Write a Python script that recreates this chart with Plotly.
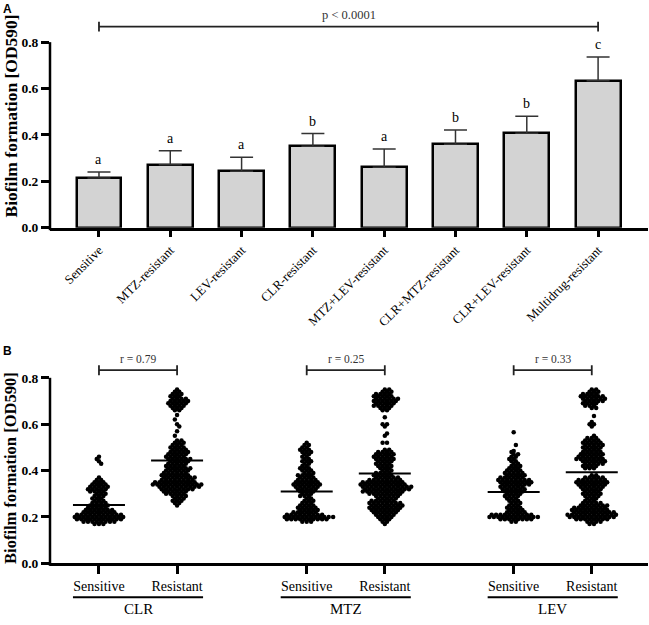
import plotly.graph_objects as go

W, H = 649, 625

# ---------------- Panel A data ----------------
CATEGORIES = ["Sensitive", "MTZ-resistant", "LEV-resistant", "CLR-resistant",
              "MTZ+LEV-resistant", "CLR+MTZ-resistant", "CLR+LEV-resistant",
              "Multidrug-resistant"]
MEANS = [0.214, 0.272, 0.244, 0.351, 0.261, 0.360, 0.407, 0.634]
ERRORS = [0.026, 0.060, 0.060, 0.055, 0.078, 0.061, 0.074, 0.102]
LETTERS = ["a", "a", "a", "b", "a", "b", "b", "c"]
P_TEXT = "p < 0.0001"
Y_TICKS = [0.0, 0.2, 0.4, 0.6, 0.8]

# ---------------- Panel B data ----------------
DRUGS = ["CLR", "MTZ", "LEV"]
STATUS = ["Sensitive", "Resistant"]
R_TEXT = ["r = 0.79", "r = 0.25", "r = 0.33"]
CENTER_LINES = [0.252, 0.443, 0.310, 0.387, 0.308, 0.393]

CLR_SENS_LEVELS = [0.17, 0.18, 0.19, 0.20, 0.21, 0.22, 0.23, 0.24, 0.25, 0.26, 0.27, 0.28, 0.29,
                   0.30, 0.31, 0.32, 0.33, 0.34, 0.35, 0.36, 0.37, 0.43, 0.44, 0.45, 0.46]
CLR_SENS_COUNTS = [3, 8, 11, 12, 11, 8, 7, 5, 5, 4, 3, 3, 3,
                   3, 4, 5, 5, 4, 3, 2, 1, 1, 1, 1, 1]

CLR_RES_LEVELS = [0.75, 0.74, 0.73, 0.72, 0.71, 0.70, 0.69, 0.68, 0.67, 0.66,
                  0.64, 0.62, 0.60, 0.59, 0.57, 0.55,
                  0.53, 0.52, 0.51, 0.50, 0.49, 0.48, 0.47, 0.46, 0.45, 0.44, 0.43, 0.42, 0.41, 0.40, 0.39,
                  0.38, 0.37, 0.36, 0.35, 0.34, 0.33, 0.32, 0.31, 0.30, 0.29, 0.28, 0.27, 0.26, 0.25]
CLR_RES_COUNTS = [1, 2, 3, 3, 4, 5, 5, 4, 3, 2,
                  1, 1, 1, 1, 1, 1,
                  2, 3, 3, 4, 4, 5, 5, 5, 6, 5, 5, 5, 6, 6, 6,
                  7, 8, 8, 10, 12, 10, 8, 6, 5, 4, 3, 3, 2, 1]

MTZ_SENS_LEVELS = [0.52, 0.51, 0.50, 0.49, 0.48, 0.47, 0.46, 0.45, 0.44, 0.43, 0.42, 0.41, 0.40,
                   0.39, 0.38, 0.37, 0.36, 0.35, 0.34, 0.33, 0.32, 0.31, 0.30, 0.29, 0.28, 0.27,
                   0.26, 0.25, 0.24, 0.23, 0.22, 0.21, 0.20, 0.19, 0.18]
MTZ_SENS_COUNTS = [1, 2, 2, 3, 3, 2, 2, 2, 3, 2, 2, 3, 3,
                   3, 4, 4, 5, 6, 7, 6, 5, 4, 3, 3, 2, 3,
                   3, 4, 5, 5, 6, 9, 12, 10, 3]

MTZ_RES_LEVELS = [0.75, 0.74, 0.73, 0.72, 0.71, 0.70, 0.69, 0.68, 0.67, 0.66,
                  0.63, 0.60, 0.59, 0.56, 0.55, 0.52,
                  0.49, 0.48, 0.47, 0.46, 0.45, 0.44, 0.43, 0.42, 0.41, 0.40, 0.39, 0.38, 0.37,
                  0.36, 0.35, 0.34, 0.33, 0.32, 0.31, 0.30, 0.29, 0.28,
                  0.27, 0.26, 0.25, 0.24, 0.23, 0.22, 0.21, 0.20, 0.19, 0.18, 0.17]
MTZ_RES_COUNTS = [2, 3, 4, 5, 6, 6, 5, 5, 3, 2,
                  1, 2, 1, 1, 1, 2,
                  2, 4, 5, 5, 5, 4, 4, 4, 3, 3, 4, 5, 6,
                  8, 10, 11, 12, 11, 10, 8, 6, 5,
                  6, 8, 8, 8, 7, 6, 5, 4, 3, 2, 1]

LEV_SENS_LEVELS = [0.565, 0.51, 0.485, 0.48, 0.47, 0.46, 0.45, 0.44, 0.43, 0.42, 0.41, 0.40, 0.39,
                   0.38, 0.37, 0.36, 0.35, 0.34, 0.33, 0.32, 0.31, 0.30, 0.29, 0.28, 0.27, 0.26,
                   0.25, 0.24, 0.23, 0.22, 0.21, 0.20, 0.19, 0.18]
LEV_SENS_COUNTS = [1, 1, 1, 1, 2, 2, 2, 2, 2, 3, 3, 4, 5,
                   5, 6, 8, 8, 7, 6, 6, 5, 4, 4, 3, 3, 3,
                   3, 4, 4, 5, 10, 12, 8, 2]

LEV_RES_LEVELS = [0.75, 0.74, 0.73, 0.72, 0.71, 0.70, 0.69, 0.68, 0.67,
                  0.635, 0.61, 0.60, 0.59,
                  0.55, 0.54, 0.53, 0.52, 0.51, 0.50, 0.49, 0.48, 0.47, 0.46, 0.45, 0.44, 0.43, 0.42, 0.41,
                  0.38, 0.37, 0.36, 0.35, 0.34, 0.33, 0.32, 0.31, 0.30, 0.29, 0.28,
                  0.27, 0.26, 0.25, 0.24, 0.23, 0.22, 0.21, 0.20, 0.19, 0.18, 0.17]
LEV_RES_COUNTS = [2, 3, 4, 6, 6, 5, 4, 3, 2,
                  1, 1, 2, 1,
                  1, 3, 4, 5, 5, 5, 4, 5, 6, 6, 7, 6, 5, 4, 3,
                  2, 5, 7, 8, 7, 6, 5, 4, 5, 4, 3,
                  3, 5, 7, 8, 9, 10, 12, 11, 8, 4, 2]

GROUPS = [(CLR_SENS_LEVELS, CLR_SENS_COUNTS), (CLR_RES_LEVELS, CLR_RES_COUNTS),
          (MTZ_SENS_LEVELS, MTZ_SENS_COUNTS), (MTZ_RES_LEVELS, MTZ_RES_COUNTS),
          (LEV_SENS_LEVELS, LEV_SENS_COUNTS), (LEV_RES_LEVELS, LEV_RES_COUNTS)]

# ---------------- layout constants ----------------
SERIF = "Liberation Serif"
SANS = "Liberation Sans"
PX_PER_UNIT_Y = 235.0
A_ZERO_PX, B_ZERO_PX, B_TOP_PX = 230.7, 570.7, 340.0
B_POS = [0.0, 1.0, 2.66, 3.66, 5.31, 6.31]   # x positions of the six swarms
B_PX_PER_UNIT_X = 78.1
SWARM_STEP = 4.4 / B_PX_PER_UNIT_X
LINE_HALF = 26 / B_PX_PER_UNIT_X


def py(p):
    return 1 - p / H


fig = go.Figure()

# Panel A bars
fig.add_trace(go.Bar(
    x=list(range(len(CATEGORIES))), y=MEANS, width=0.63,
    marker=dict(color="#d3d3d3", line=dict(color="black", width=2.5)),
    error_y=dict(type="data", array=ERRORS, arrayminus=[0] * len(ERRORS), symmetric=False,
                 color="#333333", thickness=1.5, width=11.5),
    xaxis="x", yaxis="y", showlegend=False, hoverinfo="skip"))

# Panel B swarms (honeycomb-style spreading of each value level)
for gi, (levels, counts) in enumerate(GROUPS):
    xs, ys = [], []
    for k, (v, n) in enumerate(zip(levels, counts)):
        base = [(i - (n - 1) / 2) for i in range(n)]
        # keep alternate rows on alternate half-step lattices
        natural_half = (n % 2 == 0)
        want_half = (k % 2 == 1)
        shift = 0.0
        if natural_half != want_half:
            shift = 0.5 if (k // 2) % 2 == 0 else -0.5
        for b in base:
            xs.append(B_POS[gi] + (b + shift) * SWARM_STEP)
            ys.append(v)
    fig.add_trace(go.Scatter(x=xs, y=ys, mode="markers",
                             marker=dict(size=4.5, color="black", line=dict(width=0)),
                             xaxis="x2", yaxis="y2", showlegend=False, hoverinfo="skip"))
    fig.add_trace(go.Scatter(x=[B_POS[gi] - LINE_HALF, B_POS[gi] + LINE_HALF],
                             y=[CENTER_LINES[gi]] * 2, mode="lines",
                             line=dict(color="black", width=2),
                             xaxis="x2", yaxis="y2", showlegend=False, hoverinfo="skip"))

shapes = []
annotations = []

# y axis lines drawn as shapes (they stop at 0.8)
for zero_px in (A_ZERO_PX, B_ZERO_PX):
    top_px = zero_px - 0.8 * PX_PER_UNIT_Y
    shapes.append(dict(type="line", xref="paper", yref="paper",
                       x0=50 / W, x1=50 / W, y0=py(zero_px + 2.5), y1=py(top_px),
                       line=dict(color="black", width=2.5)))

# letters above bars
for i, (m, e, L) in enumerate(zip(MEANS, ERRORS, LETTERS)):
    annotations.append(dict(x=i, y=m + e, xref="x", yref="y", text=L, showarrow=False,
                            xanchor="center", yanchor="bottom", yshift=3,
                            font=dict(family=SERIF, size=14, color="black")))

# Panel A bracket
ya = (A_ZERO_PX - 27) / PX_PER_UNIT_Y
tk = 5 / PX_PER_UNIT_Y
shapes.append(dict(type="line", xref="x", yref="y", x0=0, x1=len(CATEGORIES) - 1, y0=ya, y1=ya,
                   line=dict(color="#222", width=1.8)))
for xe in (0, len(CATEGORIES) - 1):
    shapes.append(dict(type="line", xref="x", yref="y", x0=xe, x1=xe, y0=ya - tk, y1=ya + tk,
                       line=dict(color="#222", width=1.8)))
annotations.append(dict(x=(len(CATEGORIES) - 1) / 2, y=ya, xref="x", yref="y", text=P_TEXT,
                        showarrow=False, xanchor="center", yanchor="middle", yshift=12,
                        font=dict(family=SERIF, size=12.5, color="#333")))

# Panel B brackets, underlines, group labels
yb = (B_ZERO_PX - 375) / PX_PER_UNIT_Y
for d, drug in enumerate(DRUGS):
    xs_, xr_ = B_POS[2 * d], B_POS[2 * d + 1]
    shapes.append(dict(type="line", xref="x2", yref="y2", x0=xs_, x1=xr_, y0=yb, y1=yb,
                       line=dict(color="#222", width=1.8)))
    for xe in (xs_, xr_):
        shapes.append(dict(type="line", xref="x2", yref="y2", x0=xe, x1=xe, y0=yb - tk, y1=yb + tk,
                           line=dict(color="#222", width=1.8)))
    annotations.append(dict(x=(xs_ + xr_) / 2, y=yb, xref="x2", yref="y2", text=R_TEXT[d],
                            showarrow=False, xanchor="center", yanchor="middle", yshift=11,
                            font=dict(family=SERIF, size=11.5, color="#333")))
    shapes.append(dict(type="line", xref="x2", yref="paper",
                       x0=xs_ - 0.333, x1=xr_ + 0.333, y0=py(605), y1=py(605),
                       line=dict(color="black", width=2)))
    annotations.append(dict(x=(xs_ + xr_) / 2, y=py(617), xref="x2", yref="paper", text=drug,
                            showarrow=False, xanchor="center", yanchor="middle",
                            font=dict(family=SERIF, size=15, color="black")))

# y titles and panel labels
annotations.append(dict(x=11 / W, y=py(118), xref="paper", yref="paper",
                        text="<b>Biofilm formation [OD590]</b>", textangle=-90, showarrow=False,
                        xanchor="center", yanchor="middle",
                        font=dict(family=SERIF, size=17.5, color="black")))
annotations.append(dict(x=11 / W, y=py(474), xref="paper", yref="paper",
                        text="<b>Biofilm formation [OD590]</b>", textangle=-90, showarrow=False,
                        xanchor="center", yanchor="middle",
                        font=dict(family=SERIF, size=16.5, color="black")))
annotations.append(dict(x=1 / W, y=py(9), xref="paper", yref="paper", text="<b>A</b>",
                        showarrow=False, xanchor="left", yanchor="middle",
                        font=dict(family=SANS, size=12, color="black")))
annotations.append(dict(x=1 / W, y=py(356), xref="paper", yref="paper", text="<b>B</b>",
                        showarrow=False, xanchor="left", yanchor="middle",
                        font=dict(family=SANS, size=12, color="black")))

yaxis_common = dict(tickvals=Y_TICKS, ticktext=[f"<b>{v:.1f}</b>" for v in Y_TICKS],
                    ticks="outside", ticklen=8, tickwidth=2.5, tickcolor="black",
                    showline=False, showgrid=False, zeroline=False,
                    tickfont=dict(family=SERIF, size=13.5, color="black"))

fig.update_layout(
    width=W, height=H, margin=dict(l=0, r=0, t=0, b=0),
    paper_bgcolor="white", plot_bgcolor="rgba(0,0,0,0)",
    showlegend=False, bargap=0,
    xaxis=dict(domain=[50 / W, 648 / W], range=[-0.687, 7.70],
               tickvals=list(range(len(CATEGORIES))), ticktext=CATEGORIES, tickangle=-45,
               ticks="outside", ticklen=7, tickwidth=2.5, tickcolor="black",
               showline=True, linewidth=2.5, linecolor="black", showgrid=False, zeroline=False,
               tickfont=dict(family=SERIF, size=13, color="black"), anchor="y"),
    yaxis=dict(domain=[py(A_ZERO_PX), 1.0], range=[0, A_ZERO_PX / PX_PER_UNIT_Y],
               anchor="x", **yaxis_common),
    xaxis2=dict(domain=[50 / W, 648 / W], range=[-0.627, 7.03],
                tickvals=B_POS, ticktext=STATUS * 3,
                ticks="outside", ticklen=8, tickwidth=2.5, tickcolor="black",
                showline=True, linewidth=2.5, linecolor="black", showgrid=False, zeroline=False,
                tickfont=dict(family=SERIF, size=14, color="black"), anchor="y2"),
    yaxis2=dict(domain=[py(B_ZERO_PX), py(B_TOP_PX)],
                range=[0, (B_ZERO_PX - B_TOP_PX) / PX_PER_UNIT_Y], anchor="x2", **yaxis_common),
    shapes=shapes, annotations=annotations,
)

fig.write_html("out.html", config={"displayModeBar": False},
               post_script="document.body.style.margin='0';document.body.style.overflow='hidden';")
